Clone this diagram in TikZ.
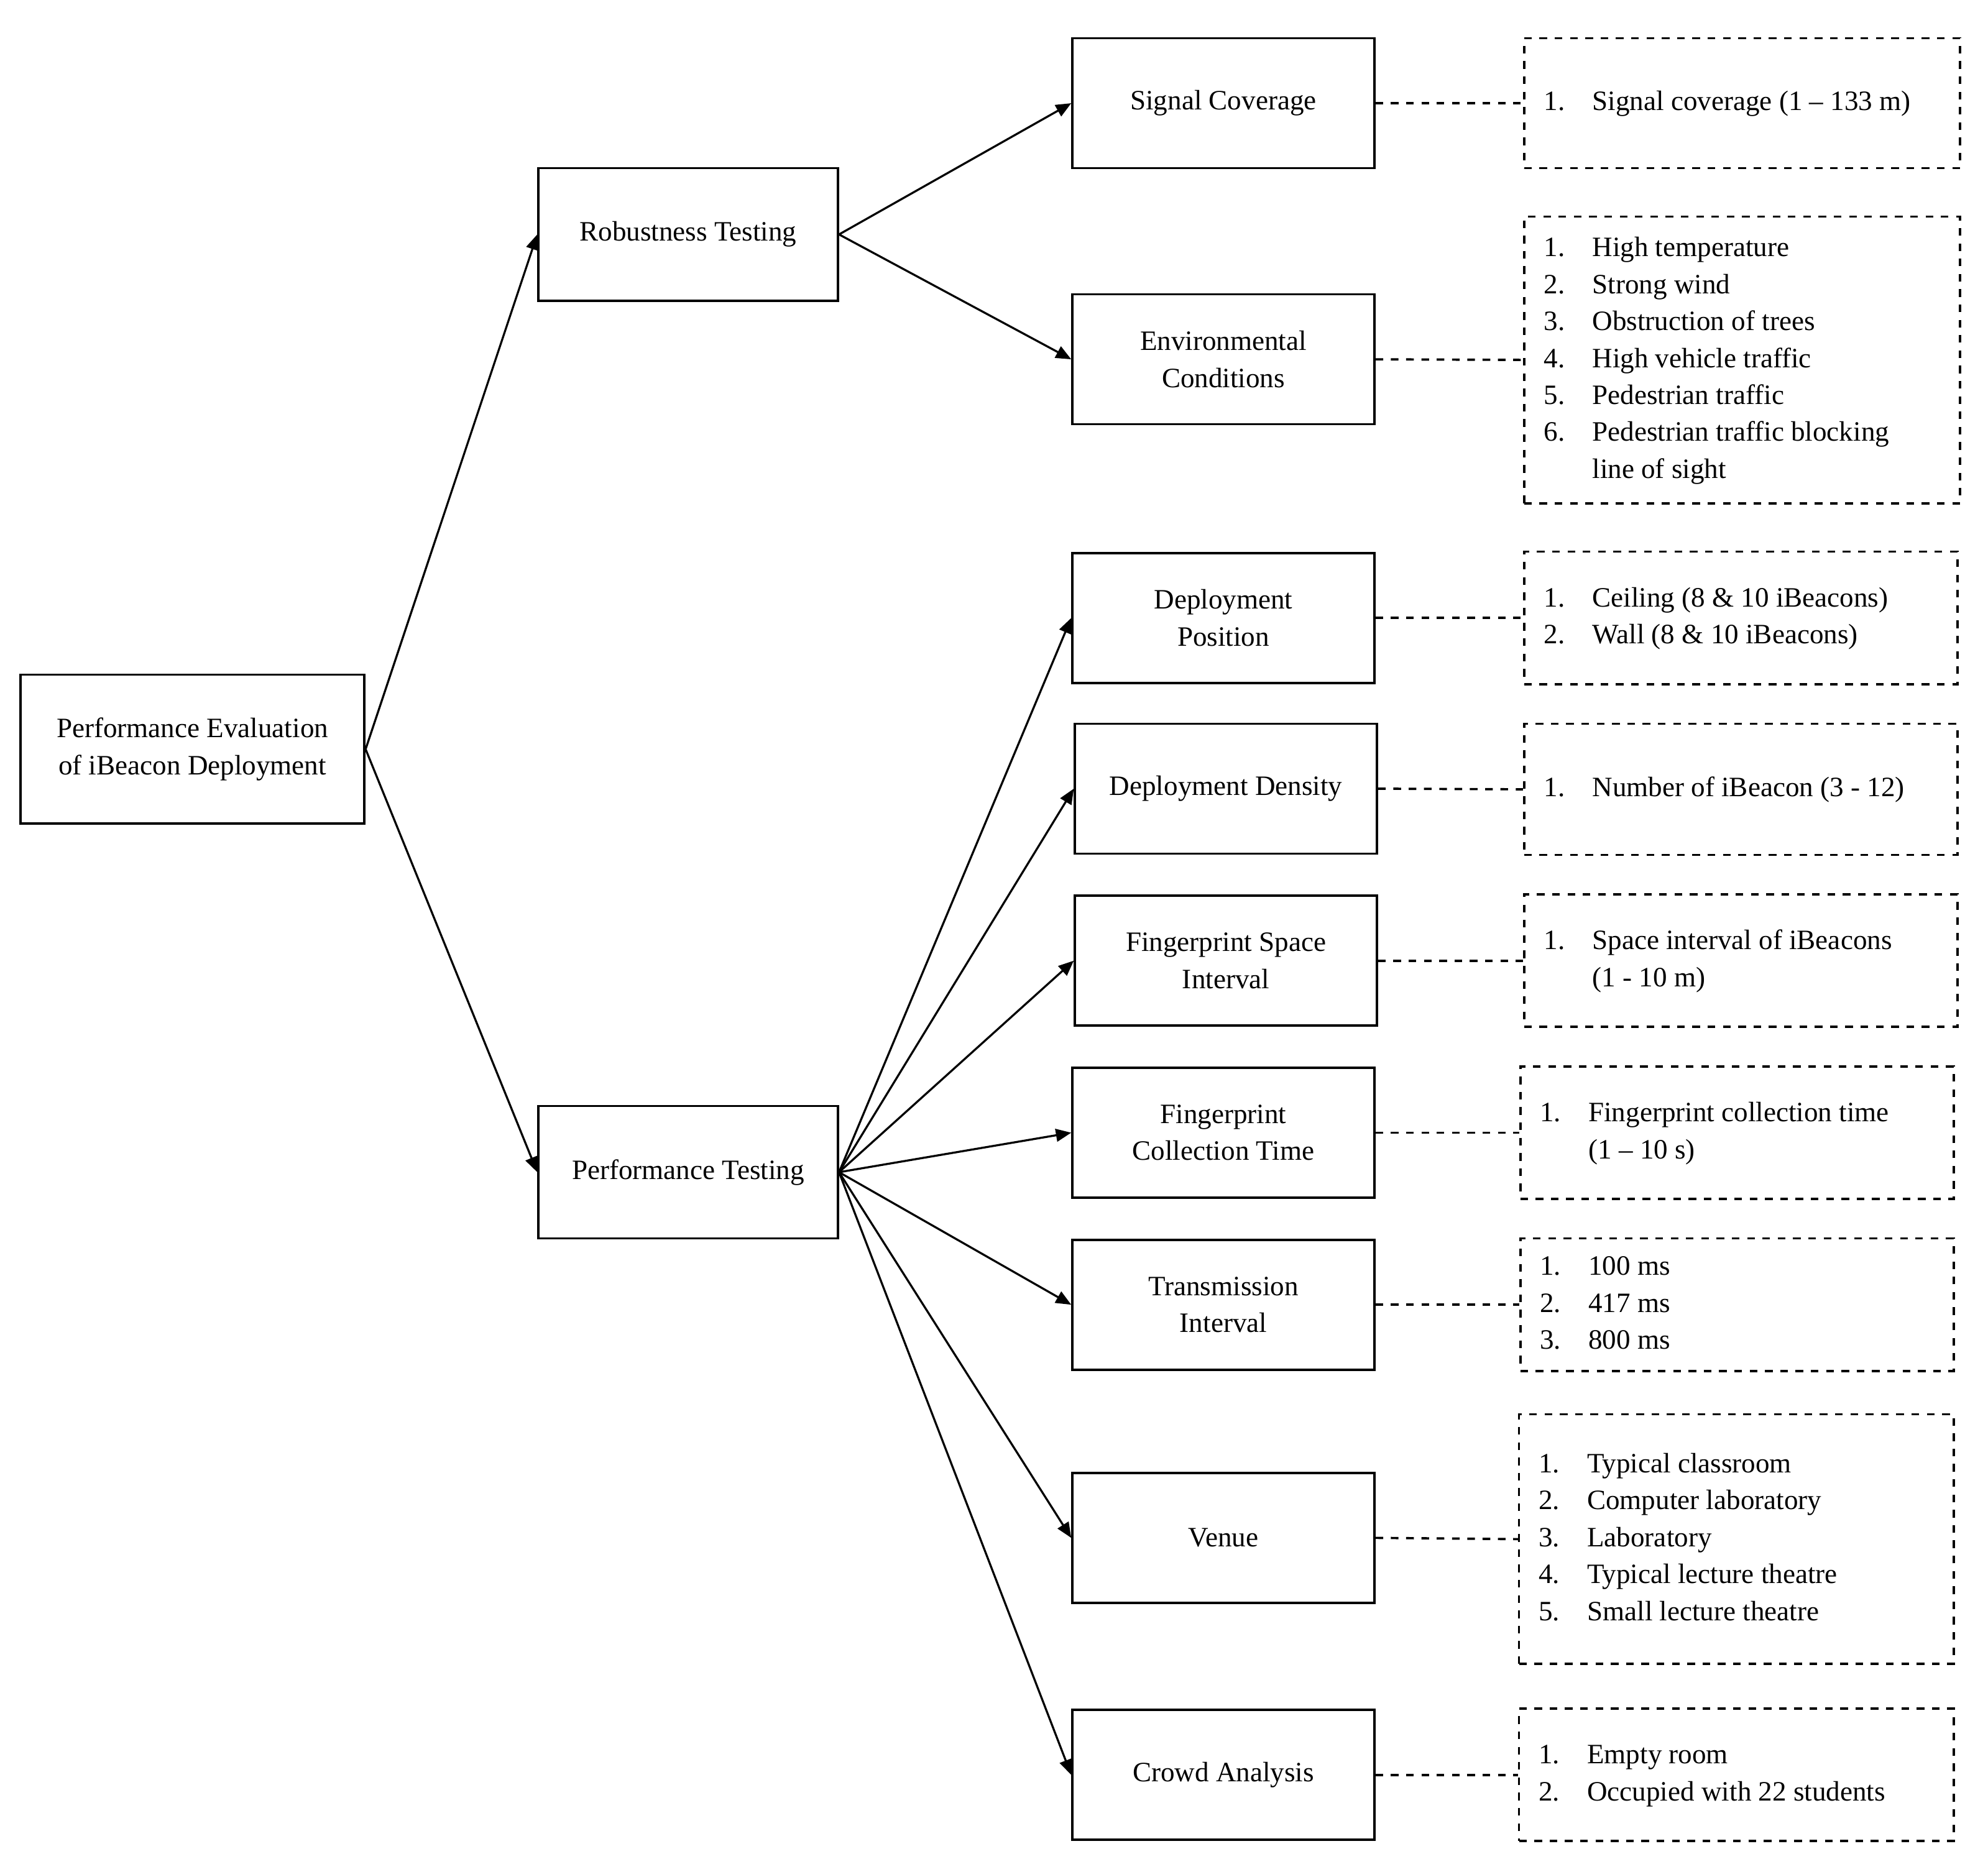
\documentclass[tikz,border=0pt]{standalone}
\usepackage{fontspec}
\setmainfont{Liberation Serif}
\usetikzlibrary{arrows.meta}
\begin{document}
\begin{tikzpicture}[x=0.5pt,y=-0.5pt,
  box/.style={draw,line width=0.9pt,align=center,inner sep=0pt,font=\fontsize{11}{14.5}\selectfont},
  dbox/.style={draw,dashed,line width=0.9pt,inner sep=0pt},
  lst/.style={anchor=west,inner sep=0pt,font=\fontsize{11}{14.5}\selectfont},
  arr/.style={line width=0.8pt,-{Triangle[length=6pt,width=5pt]}},
  dl/.style={dashed,line width=0.9pt}]
\useasboundingbox (0,0) rectangle (1560,1455);
\newcommand{\bx}[7]{\node[box,minimum width=#4*0.5pt,minimum height=#5*0.5pt] (#1) at (#2,#3) {#6};}
\node[box,minimum width=135pt,minimum height=58.5pt] (root) at (151,588) {Performance Evaluation\\of iBeacon Deployment};
\node[box,minimum width=117.5pt,minimum height=52pt] (rob) at (540,184) {Robustness Testing};
\node[box,minimum width=117.5pt,minimum height=52pt] (perf) at (540,920) {Performance Testing};
\foreach \n/\x/\y/\t in {sc/960/81/Signal Coverage, env/960/282/{Environmental\\Conditions}, dp/960/485/{Deployment\\Position}, dd/962/619/Deployment Density, fs/962/754/{Fingerprint Space\\Interval}, fc/960/889/{Fingerprint\\Collection Time}, ti/960/1024/{Transmission\\Interval}, ve/960/1207/Venue, ca/960/1393/Crowd Analysis}
  {\node[box,minimum width=118.5pt,minimum height=51pt] (\n) at (\x,\y) {\t};}
% dashed boxes
\foreach \n/\xa/\ya/\xb/\yb in {lsc/1196/30/1538/132, lenv/1196/170/1538/395, ldp/1196/433/1536/537, ldd/1196/568/1536/671, lfs/1196/702/1536/806, lfc/1193/837/1533/941, lti/1193/972/1533/1076, lve/1192/1110/1533/1306, lca/1192/1341/1533/1445}
  {\node[dbox,minimum width={(\xb-\xa)*0.5pt},minimum height={(\yb-\ya)*0.5pt}] (\n) at ({(\xa+\xb)/2},{(\ya+\yb)/2}) {};}
\newcommand{\lt}[1]{\begin{tabular}{@{}p{19pt}@{}l@{}}#1\end{tabular}}
\node[lst] at ([xshift=8pt]lsc.west) {\lt{1. & Signal coverage (1 – 133 m)}};
\node[lst] at ([xshift=8pt]lenv.west) {\lt{1. & High temperature\\2. & Strong wind\\3. & Obstruction of trees\\4. & High vehicle traffic\\5. & Pedestrian traffic\\6. & Pedestrian traffic blocking\\ & line of sight}};
\node[lst] at ([xshift=8pt]ldp.west) {\lt{1. & Ceiling (8 \& 10 iBeacons)\\2. & Wall (8 \& 10 iBeacons)}};
\node[lst] at ([xshift=8pt]ldd.west) {\lt{1. & Number of iBeacon (3 - 12)}};
\node[lst] at ([xshift=8pt]lfs.west) {\lt{1. & Space interval of iBeacons\\ & (1 - 10 m)}};
\node[lst] at ([xshift=8pt]lfc.west) {\lt{1. & Fingerprint collection time\\ & (1 – 10 s)}};
\node[lst] at ([xshift=8pt]lti.west) {\lt{1. & 100 ms\\2. & 417 ms\\3. & 800 ms}};
\node[lst] at ([xshift=8pt]lve.west) {\lt{1. & Typical classroom\\2. & Computer laboratory\\3. & Laboratory\\4. & Typical lecture theatre\\5. & Small lecture theatre}};
\node[lst] at ([xshift=8pt]lca.west) {\lt{1. & Empty room\\2. & Occupied with 22 students}};
% arrows
\draw[arr] (root.east) -- (rob.west);
\draw[arr] (root.east) -- (perf.west);
\draw[arr] (rob.east) -- (sc.west);
\draw[arr] (rob.east) -- (env.west);
\foreach \n in {dp,dd,fs,fc,ti,ve,ca} {\draw[arr] (perf.east) -- (\n.west);}
\foreach \a/\b in {sc/lsc,env/lenv,dp/ldp,dd/ldd,fs/lfs,fc/lfc,ti/lti,ve/lve,ca/lca} {\draw[dl] (\a.east) -- (\b.west);}
\end{tikzpicture}
\end{document}
